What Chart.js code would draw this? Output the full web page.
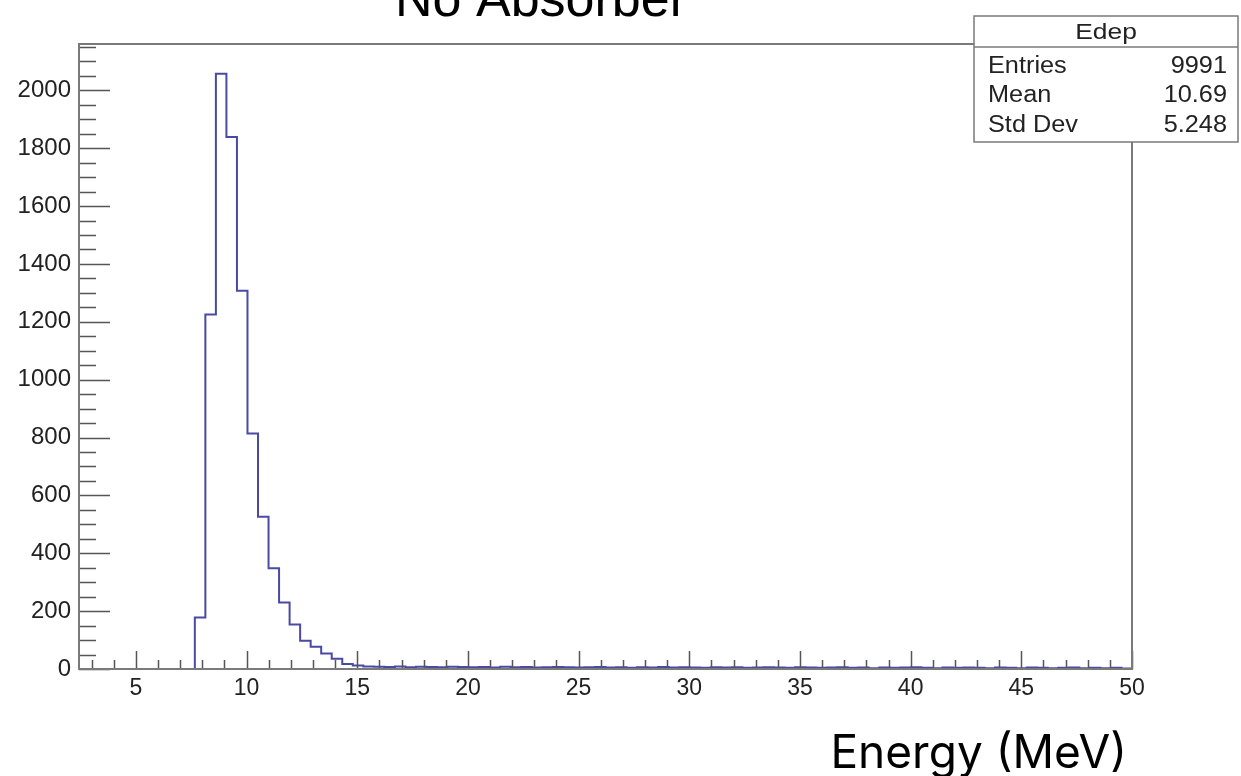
<!DOCTYPE html>
<html>
<head>
<meta charset="utf-8">
<script src="https://cdn.jsdelivr.net/npm/chart.js@4.4.1/dist/chart.umd.min.js"></script>
<style>
  html, body { margin: 0; padding: 0; background: #ffffff; }
  #wrap { width: 1241px; height: 776px; }
</style>
</head>
<body>
<div id="wrap"><canvas id="histo" width="1241" height="776"></canvas></div>
<script>
// --- Datos del histograma (Edep, 100 bins) ---
const binLow = 2.43;
const binHigh = 50;
const binWidth = (binHigh - binLow) / 100;
const counts = [
  0, 0, 0, 0, 0, 0, 0, 0, 0, 0,
  0, 178, 1225, 2057, 1839, 1307, 814, 526, 348, 230,
  154, 98, 77, 54, 35, 17, 12, 9, 8, 7,
  9, 6, 8, 7, 6, 8, 7, 6, 7, 5,
  8, 6, 7, 5, 6, 7, 6, 5, 6, 7,
  5, 6, 4, 6, 5, 7, 5, 6, 5, 4,
  6, 5, 6, 4, 5, 6, 5, 4, 6, 5,
  4, 5, 6, 4, 5, 3, 5, 4, 5, 6,
  4, 3, 5, 4, 5, 4, 3, 5, 4, 3,
  5, 4, 3, 4, 5, 3, 4, 3, 4, 2
];
const xLabels = [5, 10, 15, 20, 25, 30, 35, 40, 45, 50];
const yLabels = [0, 200, 400, 600, 800, 1000, 1200, 1400, 1600, 1800, 2000];
const yMax = 2160;
const statsTitle = 'Edep';
const statsNames = ['Entries', 'Mean', 'Std Dev'];
const statsValues = ['9991', '10.69', '5.248'];

// puntos del contorno escalonado (borde izquierdo de cada bin)
const puntos = counts.map((c, i) => ({ x: binLow + i * binWidth, y: c }));
puntos.push({ x: binHigh, y: 0 });

const ROOT_FONT = '"Liberation Sans", Arial, sans-serif';

function texto(ctx, str, x, y, size, align, sx, family) {
    ctx.save();
    ctx.font = size + 'px ' + (family || ROOT_FONT);
    ctx.textAlign = align;
    ctx.textBaseline = 'alphabetic';
    ctx.translate(x, y);
    ctx.scale(sx || 1, 1);
    ctx.fillText(str, 0, 0);
    ctx.restore();
}

// --- Marco, ticks internos, título y caja de estadísticas ---
const marcoROOT = {
    id: 'marcoROOT',
    afterDraw(chart) {
        const { ctx, chartArea: a, scales } = chart;
        const xs = scales.x, ys = scales.y;

        ctx.save();
        ctx.strokeStyle = '#555555';
        ctx.lineWidth = 1.5;
        ctx.beginPath();
        // ticks eje X (menores cada 1, mayores cada 5)
        for (let v = 3; v <= 50; v++) {
            const px = Math.round(xs.getPixelForValue(v)) + 0.5;
            const len = v % 5 === 0 ? 18 : 9;
            ctx.moveTo(px, a.bottom);
            ctx.lineTo(px, a.bottom - len);
        }
        // ticks eje Y (menores cada 50, mayores cada 200)
        for (let v = 0; v <= 2150; v += 50) {
            const py = Math.round(ys.getPixelForValue(v)) + 0.5;
            const len = v % 200 === 0 ? 31 : 17;
            ctx.moveTo(a.left, py);
            ctx.lineTo(a.left + len, py);
        }
        ctx.stroke();

        // marco
        ctx.strokeStyle = '#7a7a7a';
        ctx.lineWidth = 2;
        ctx.strokeRect(a.left, a.top, a.right - a.left, a.bottom - a.top);

        // título (cortado arriba, como en el original)
        ctx.fillStyle = '#000000';
        texto(ctx, 'No Absorber', 541, 16, 52, 'center', 1.0);

        // caja de estadísticas
        const bx = 974, by = 16, bw = 264, bh = 126;
        ctx.fillStyle = '#ffffff';
        ctx.fillRect(bx, by, bw, bh);
        ctx.strokeStyle = '#7a7a7a';
        ctx.lineWidth = 1.5;
        ctx.strokeRect(bx, by, bw, bh);
        ctx.beginPath();
        ctx.moveTo(bx, 47);
        ctx.lineTo(bx + bw, 47);
        ctx.stroke();

        ctx.fillStyle = '#222222';
        texto(ctx, statsTitle, 1106, 39, 22, 'center', 1.2);
        const filas = [72.5, 101.5, 131.5];
        statsNames.forEach((n, i) => {
            texto(ctx, n, 988, filas[i], 23, 'left', 1.1);
            texto(ctx, statsValues[i], 1227, filas[i], 23, 'right', 1.1);
        });

        // etiqueta eje X
        ctx.fillStyle = '#000000';
        texto(ctx, 'Energy (MeV)', 1127, 768, 46, 'right', 1.0, 'Inter, sans-serif');
        ctx.restore();
    }
};

const ctx = document.getElementById('histo').getContext('2d');
const histo = new Chart(ctx, {
    type: 'line',
    data: {
        datasets: [{
            label: 'Edep',
            data: puntos,
            stepped: true,
            borderColor: '#4a4aa5',
            borderWidth: 2,
            pointRadius: 0,
            fill: false,
            tension: 0
        }]
    },
    options: {
        responsive: false,
        animation: false,
        layout: { padding: { top: 44, right: 109, left: 0, bottom: 0 } },
        plugins: { legend: { display: false }, tooltip: { enabled: false } },
        scales: {
            x: {
                type: 'linear',
                min: binLow,
                max: binHigh,
                grid: { display: false, drawTicks: false },
                border: { display: false },
                afterBuildTicks: s => { s.ticks = xLabels.map(v => ({ value: v })); },
                afterFit: s => { s.height = 107; },
                ticks: {
                    padding: 6,
                    maxRotation: 0,
                    autoSkip: false,
                    color: '#222222',
                    font: { family: ROOT_FONT, size: 23 },
                    callback: v => String(v)
                }
            },
            y: {
                min: 0,
                max: yMax,
                grid: { display: false, drawTicks: false },
                border: { display: false },
                afterBuildTicks: s => { s.ticks = yLabels.map(v => ({ value: v })); },
                afterFit: s => { s.width = 79; },
                ticks: {
                    padding: 8,
                    autoSkip: false,
                    color: '#222222',
                    font: { family: ROOT_FONT, size: 24 },
                    callback: v => String(v)
                }
            }
        }
    },
    plugins: [marcoROOT]
});
</script>
</body>
</html>
